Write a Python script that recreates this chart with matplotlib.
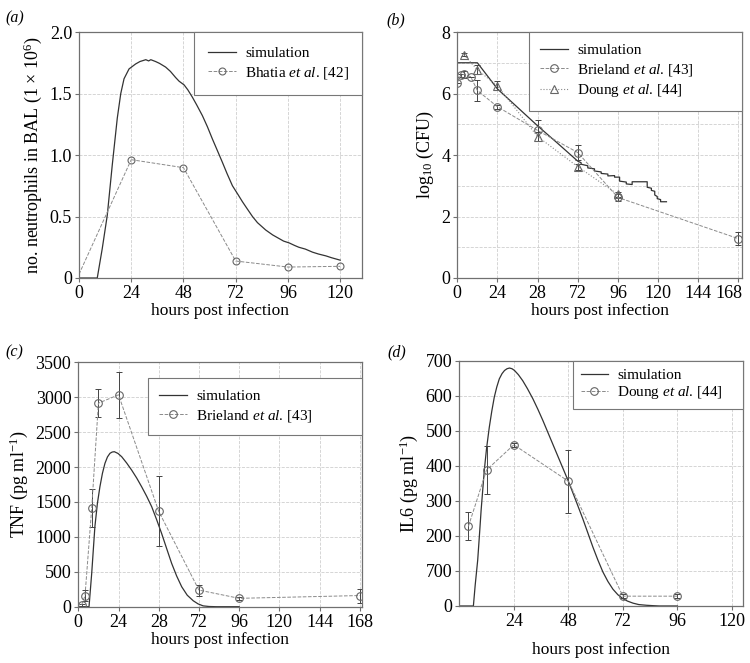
import matplotlib
matplotlib.use("Agg")
import matplotlib.pyplot as plt
from matplotlib.transforms import ScaledTranslation

plt.rcParams['font.family'] = ['Liberation Serif', 'DejaVu Serif']
plt.rcParams['mathtext.fontset'] = 'custom'
plt.rcParams['mathtext.rm'] = 'Liberation Serif'
plt.rcParams['mathtext.it'] = 'Liberation Serif:italic'

# (a) neutrophils
sim_a_t = [0, 8.4, 10.7, 13, 15.3, 17.6, 19.2, 20.7, 23, 26, 28, 30.7, 32, 33, 35.2, 37, 39.8, 42, 44.4, 46,
           48.3, 50, 52.1, 54, 56.7, 59, 61.3, 63, 65.9, 68, 70.5, 73, 75.1, 77, 79.7, 82, 85.8, 89, 92,
           94, 96.6, 99, 101, 104, 107.3, 110, 113.4, 116, 120]
sim_a_v = [0, 0, 0.24, 0.51, 0.92, 1.30, 1.50, 1.62, 1.70, 1.74, 1.76, 1.775, 1.765, 1.775, 1.76, 1.745, 1.715, 1.68, 1.63, 1.60,
           1.57, 1.53, 1.47, 1.41, 1.32, 1.23, 1.13, 1.06, 0.94, 0.85, 0.75, 0.68, 0.62, 0.57, 0.50, 0.45, 0.39, 0.35, 0.32,
           0.30, 0.285, 0.265, 0.25, 0.235, 0.21, 0.195, 0.18, 0.165, 0.145]
bhatia_t = [0, 24, 48, 72, 96, 120]
bhatia_v = [0.03, 0.962, 0.897, 0.138, 0.089, 0.095]

# (b) bacteria
sim_b_t = [0, 12, 24, 36, 48, 60, 72, 74, 74, 78, 78, 82, 82, 86, 86, 90, 90, 94, 94, 97, 97, 101, 101,
           104.5, 104.5, 113.5, 113.5, 116, 116, 118, 118, 119.5, 119.5, 121.5, 121.5, 125]
sim_b_v = [7.0, 7.0, 6.15, 5.55, 4.95, 4.38, 3.8, 3.75, 3.7, 3.65, 3.58, 3.55, 3.48, 3.45, 3.4, 3.38, 3.32,
           3.33, 3.28, 3.28, 3.15, 3.12, 3.06, 3.04, 3.13, 3.13, 2.95, 2.92, 2.85, 2.82, 2.7, 2.65, 2.58,
           2.55, 2.48, 2.48]
brie_b_t = [0, 2, 4, 8, 12, 24, 48, 72, 96, 168]
brie_b_v = [6.35, 6.6, 6.62, 6.55, 6.1, 5.57, 4.8, 4.08, 2.62, 1.28]
brie_b_e = [0, 0.05, 0.1, 0, 0.33, 0.07, 0.35, 0.25, 0.1, 0.2]
doung_b_t = [4, 12, 24, 48, 72, 96]
doung_b_v = [7.26, 6.77, 6.25, 4.6, 3.62, 2.72]
doung_b_e = [0.05, 0.15, 0.15, 0.15, 0.1, 0.08]

# (c) TNF
sim_c_t = [0, 6.4, 7, 8, 9, 9.9, 11.4, 12.9, 14.4, 15.9, 17.4, 18.9, 20.2, 21.5, 23.7, 25.9, 28.8, 31.8,
           34.8, 37.8, 40.8, 43.8, 46.7, 49.7, 52.7, 55.7, 58.7, 61.7, 65, 68.6, 71.5, 74.5, 78, 82.5, 96]
sim_c_v = [0, 0, 180, 478, 830, 1146, 1480, 1718, 1910, 2053, 2145, 2197, 2215, 2220, 2195, 2148, 2060, 1958,
           1845, 1718, 1582, 1432, 1250, 1051, 835, 621, 440, 286, 165, 85, 40, 12, 3, 0, 0]
brie_c_t = [2, 4, 8, 12, 24, 48, 72, 96, 168]
brie_c_v = [25, 158, 1410, 2915, 3035, 1365, 238, 120, 160]
brie_c_e = [10, 80, 270, 200, 330, 500, 80, 20, 100]

# (d) IL6
sim_d_t = [0, 6.2, 7, 8.1, 9, 9.6, 10.3, 11, 12, 13.2, 14.3, 15.4, 16.5, 17.6, 18.8, 19.9, 21, 22.1, 23.2,
           24.3, 26, 27.9, 30, 32.4, 34.6, 36.8, 39, 41.2, 43.4, 45.6, 48, 51, 54.4, 56.6, 58.8, 61, 63.2,
           65.4, 67.6, 69.8, 72, 74, 76.5, 79, 82.4, 85, 88, 96]
sim_d_v = [0, 0, 60, 131, 215, 273, 330, 387, 450, 510, 556, 596, 625, 648, 663, 672, 677, 679, 677,
           672, 660, 643, 620, 591, 561, 529, 495, 461, 427, 393, 356, 306, 248, 208, 168, 131, 97,
           70, 48, 32, 21, 14, 8, 4, 2, 1, 0, 0]
doung_d_t = [4, 12, 24, 48, 72, 96]
doung_d_v = [227, 388, 460, 356, 28, 28]
doung_d_e = [40, 69, 5, 90, 5, 5]

hour_ticks = [0, 24, 48, 72, 96, 120, 144, 168]
hour_labels = ['0', '24', '28', '72', '96', '120', '144', '168']

SIM = '#333333'
DAT = '#8a8a8a'
ERR = '#444444'

fig = plt.figure(figsize=(7.5, 6.63), dpi=100)


def style(ax):
    ax.grid(True, which='both', color='#cfcfcf', linestyle='--', linewidth=0.6)
    ax.set_axisbelow(True)
    for s in ax.spines.values():
        s.set_color('#707070')
        s.set_linewidth(0.9)
    ax.tick_params(axis='both', which='major', labelsize=13, length=3, color='#707070', pad=2)
    ax.tick_params(axis='both', which='minor', length=0)
    ax.set_xlabel('hours post infection', fontsize=12.5, labelpad=1)


def legend(ax, x0, top, bp, ls):
    lg = ax.legend(loc='upper right', bbox_to_anchor=(x0, 0, 1 - x0, top), mode='expand',
                   fontsize=11, fancybox=False, framealpha=1, edgecolor='#777777',
                   borderaxespad=0, borderpad=bp, labelspacing=ls, handlelength=1.8,
                   handletextpad=0.6)
    lg.get_frame().set_linewidth(0.8)


# panel a
ax = fig.add_axes([0.1053, 0.5807, 0.3773, 0.371])
ax.plot(sim_a_t, sim_a_v, color=SIM, lw=0.9, label='simulation')
ax.plot(bhatia_t[1:], bhatia_v[1:], color=DAT, lw=0.7, ls='--', marker='o', ms=5, mfc='none',
        mec='#666666', mew=0.8, label=r'Bhatia $\mathit{et\ al}$. [42]')
ax.plot(bhatia_t[:2], bhatia_v[:2], color=DAT, lw=0.7, ls='--')
ax.set_xlim(0, 130)
ax.set_ylim(0, 2.0)
ax.set_xticks([0, 24, 48, 72, 96, 120])
ax.set_yticks([0, 0.5, 1.0, 1.5, 2.0])
ax.set_yticklabels(['0', '0.5', '1.0', '1.5', '2.0'])
ax.set_ylabel(r'no. neutrophils in BAL (1 × 10$^{6}$)', fontsize=13)
style(ax)
legend(ax, 0.406, 1.0, 0.95, 0.3)

# panel b
ax = fig.add_axes([0.6097, 0.5807, 0.3793, 0.371])
ax.plot(sim_b_t, sim_b_v, color=SIM, lw=0.9, label='simulation')
ax.errorbar(brie_b_t, brie_b_v, yerr=brie_b_e, fmt='none', ecolor=ERR, elinewidth=0.7, capsize=2, capthick=0.7)
ax.errorbar(doung_b_t, doung_b_v, yerr=doung_b_e, fmt='none', ecolor=ERR, elinewidth=0.7, capsize=2, capthick=0.7)
ax.plot(brie_b_t, brie_b_v, color=DAT, lw=0.7, ls='--', marker='o', ms=5.5, mfc='none',
        mec='#666666', mew=0.8, label=r'Brieland $\mathit{et\ al}$. [43]')
ax.plot(doung_b_t, doung_b_v, color=DAT, lw=0.8, ls=':', marker='^', ms=6, mfc='none',
        mec='#666666', mew=0.8, label=r'Doung $\mathit{et\ al}$. [44]')
ax.set_xlim(0, 170)
ax.set_ylim(0, 8)
ax.set_xticks(hour_ticks)
ax.set_xticklabels(hour_labels)
ax.set_yticks([0, 2, 4, 6, 8])
ax.set_yticks([1, 3, 5, 7], minor=True)
ax.set_ylabel(r'log$_{10}$ (CFU)', fontsize=13)
style(ax)
legend(ax, 0.252, 1.0, 0.75, 0.3)
last = ax.get_xticklabels()[-1]
last.set_transform(last.get_transform() + ScaledTranslation(-7 / 72, 0, fig.dpi_scale_trans))

# panel c
ax = fig.add_axes([0.1044, 0.0849, 0.3787, 0.3686])
ax.plot(sim_c_t, sim_c_v, color=SIM, lw=0.9, label='simulation')
ax.errorbar(brie_c_t, brie_c_v, yerr=brie_c_e, fmt='none', ecolor=ERR, elinewidth=0.7, capsize=2, capthick=0.7)
ax.plot(brie_c_t, brie_c_v, color=DAT, lw=0.7, ls='--', marker='o', ms=5.5, mfc='none',
        mec='#666666', mew=0.8, label=r'Brieland $\mathit{et\ al}$. [43]')
ax.set_xlim(0, 169.5)
ax.set_ylim(0, 3500)
ax.set_xticks(hour_ticks)
ax.set_xticklabels(hour_labels)
ax.set_yticks(range(0, 3501, 500))
ax.set_ylabel(r'TNF (pg ml$^{-1}$)', fontsize=13)
style(ax)
legend(ax, 0.245, 0.936, 0.75, 0.3)

# panel d
ax = fig.add_axes([0.6124, 0.086, 0.3787, 0.370])
ax.plot(sim_d_t, sim_d_v, color=SIM, lw=0.9, label='simulation')
ax.errorbar(doung_d_t, doung_d_v, yerr=doung_d_e, fmt='none', ecolor=ERR, elinewidth=0.7, capsize=2, capthick=0.7)
ax.plot(doung_d_t, doung_d_v, color=DAT, lw=0.7, ls='--', marker='o', ms=5.5, mfc='none',
        mec='#666666', mew=0.8, label=r'Doung $\mathit{et\ al}$. [44]')
ax.set_xlim(0, 125)
ax.set_ylim(0, 700)
ax.set_xticks([24, 48, 72, 96, 120])
ax.set_yticks(range(0, 701, 100))
ax.set_yticklabels(['0', '700', '200', '300', '400', '500', '600', '700'])
ax.set_ylabel(r'IL6 (pg ml$^{-1}$)', fontsize=13)
style(ax)
ax.xaxis.labelpad = 9
legend(ax, 0.40, 1.0, 0.5, 0.15)

for x, y, s in [(0.007, 0.985, '(a)'), (0.515, 0.982, '(b)'), (0.007, 0.48, '(c)'), (0.516, 0.48, '(d)')]:
    fig.text(x, y, s, fontsize=11.5, style='italic', va='top')

fig.savefig('out.png', dpi=100)
